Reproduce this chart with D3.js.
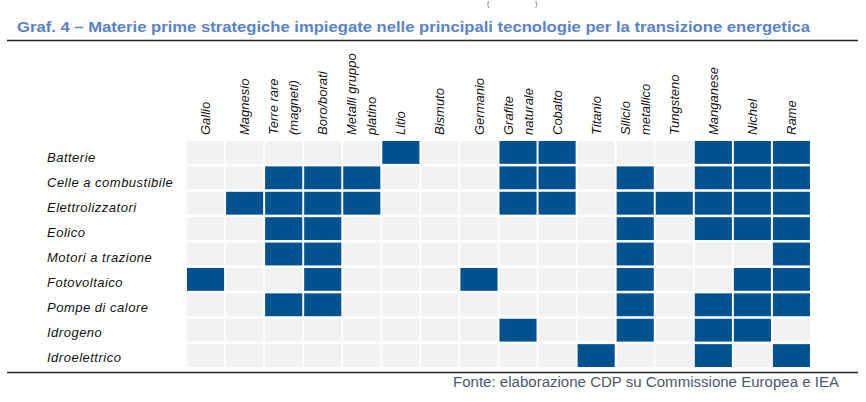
<!DOCTYPE html>
<html>
<head>
<meta charset="utf-8">
<script src="https://cdn.jsdelivr.net/npm/d3@7"></script>
<style>
  html, body { margin: 0; padding: 0; background: #ffffff; }
  svg { display: block; }
</style>
</head>
<body>
<div id="chart"></div>
<script>
// ---------------- DATA ----------------
const titleText = "Graf. 4 \u2013 Materie prime strategiche impiegate nelle principali tecnologie per la transizione energetica";
const sourceText = "Fonte: elaborazione CDP su Commissione Europea e IEA";

// column (materials) labels; multi-line labels split by "|"
const materials = [
  "Gallio", "Magnesio", "Terre rare|(magneti)", "Boro/borati", "Metalli gruppo|platino",
  "Litio", "Bismuto", "Germanio", "Grafite|naturale", "Cobalto", "Titanio",
  "Silicio|metallico", "Tungsteno", "Manganese", "Nichel", "Rame"
];

// row (technologies) labels
const technologies = [
  "Batterie", "Celle a combustibile", "Elettrolizzatori", "Eolico", "Motori a trazione",
  "Fotovoltaico", "Pompe di calore", "Idrogeno", "Idroelettrico"
];

// usage matrix: 1 = material used by the technology (row order = technologies, col order = materials)
const batterie          = [0,0,0,0,0,1,0,0,1,1,0,0,0,1,1,1];
const celleCombustibile = [0,0,1,1,1,0,0,0,1,1,0,1,0,1,1,1];
const elettrolizzatori  = [0,1,1,1,1,0,0,0,1,1,0,1,1,1,1,1];
const eolico            = [0,0,1,1,0,0,0,0,0,0,0,1,0,1,1,1];
const motoriTrazione    = [0,0,1,1,0,0,0,0,0,0,0,1,0,0,0,1];
const fotovoltaico      = [1,0,0,1,0,0,0,1,0,0,0,1,0,0,1,1];
const pompeCalore       = [0,0,1,1,0,0,0,0,0,0,0,1,0,1,1,1];
const idrogeno          = [0,0,0,0,0,0,0,0,1,0,0,1,0,1,1,0];
const idroelettrico     = [0,0,0,0,0,0,0,0,0,0,1,0,0,1,0,1];

const matrix = [batterie, celleCombustibile, elettrolizzatori, eolico, motoriTrazione,
                fotovoltaico, pompeCalore, idrogeno, idroelettrico];

// ---------------- LAYOUT ----------------
const W = 866, H = 402;
const svg = d3.select("#chart").append("svg")
  .attr("width", W).attr("height", H)
  .attr("viewBox", `0 0 ${W} ${H}`);

const colors = { on: "#01528f", off: "#f2f2f2", title: "#5a82c9", source: "#4c5869", rule: "#262626" };

// small remnant marks of the previous line at the very top
svg.append("text").attr("x", 487).attr("y", 6).attr("font-family", "Liberation Sans, Arial, sans-serif")
  .attr("font-size", 7).attr("fill", "#555").text("(");
svg.append("text").attr("x", 535).attr("y", 6).attr("font-family", "Liberation Sans, Arial, sans-serif")
  .attr("font-size", 7).attr("fill", "#555").text(")");

// title
svg.append("text")
  .attr("x", 17).attr("y", 31.5)
  .attr("font-family", "'Liberation Sans Narrow', 'Arial Narrow', 'Liberation Sans', Arial, sans-serif")
  .attr("font-weight", "bold")
  .attr("font-size", 15.5)
  .attr("fill", colors.title)
  .attr("textLength", 793)
  .attr("lengthAdjust", "spacingAndGlyphs")
  .text(titleText);

// rules
svg.append("line").attr("x1", 7).attr("x2", 858).attr("y1", 40.5).attr("y2", 40.5)
  .attr("stroke", colors.rule).attr("stroke-width", 1.5);
svg.append("line").attr("x1", 7).attr("x2", 858).attr("y1", 372.5).attr("y2", 372.5)
  .attr("stroke", colors.rule).attr("stroke-width", 1.5);

// scales
const x = d3.scaleBand().domain(materials).range([187, 810]).paddingInner(0.05);
const y = d3.scaleBand().domain(technologies).range([141, 367]).paddingInner(0.1);
const yLabel = d3.scalePoint().domain(technologies).range([161.5, 361.5]);

// cells
const cells = [];
matrix.forEach((row, i) => row.forEach((v, j) => cells.push({ tech: technologies[i], mat: materials[j], v })));

svg.append("g").selectAll("rect").data(cells).join("rect")
  .attr("x", d => x(d.mat))
  .attr("y", d => y(d.tech))
  .attr("width", x.bandwidth())
  .attr("height", y.bandwidth())
  .attr("fill", d => d.v ? colors.on : colors.off);

// row labels
svg.append("g").selectAll("text").data(technologies).join("text")
  .attr("x", 47)
  .attr("y", d => yLabel(d))
  .attr("font-family", "'Liberation Sans', Arial, sans-serif")
  .attr("font-style", "italic")
  .attr("font-size", 13)
  .attr("letter-spacing", "0.5px")
  .attr("fill", "#111")
  .text(d => d);

// column labels (rotated)
const colG = svg.append("g").selectAll("g").data(materials).join("g")
  .attr("transform", d => `translate(${x(d) + x.bandwidth() / 2},135)`);

colG.each(function (d) {
  const lines = d.split("|");
  const g = d3.select(this);
  lines.forEach((ln, k) => {
    const off = lines.length === 1 ? 0 : (k === 0 ? -10 : 10);
    g.append("text")
      .attr("transform", `translate(${off},0) rotate(-90)`)
      .attr("dy", "0.35em")
      .attr("font-family", "'Liberation Sans', Arial, sans-serif")
      .attr("font-style", "italic")
      .attr("font-size", 13)
      .attr("fill", "#111")
      .text(ln);
  });
});

// source
svg.append("text")
  .attr("x", 839).attr("y", 386.5)
  .attr("text-anchor", "end")
  .attr("font-family", "'Liberation Sans', Arial, sans-serif")
  .attr("font-size", 14)
  .attr("fill", colors.source)
  .attr("textLength", 386)
  .attr("lengthAdjust", "spacingAndGlyphs")
  .text(sourceText);
</script>
</body>
</html>
